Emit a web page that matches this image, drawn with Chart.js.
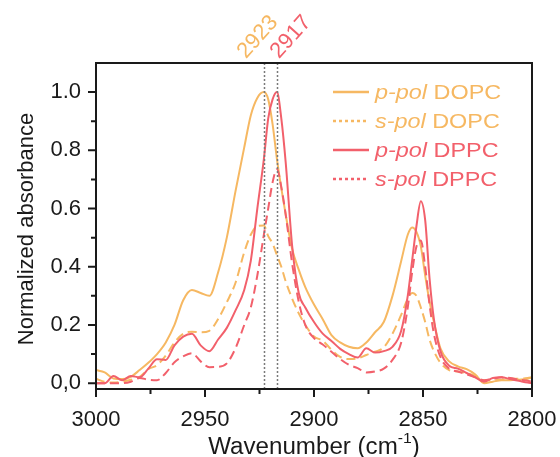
<!DOCTYPE html>
<html>
<head>
<meta charset="utf-8">
<script src="https://cdn.jsdelivr.net/npm/chart.js@4.4.0/dist/chart.umd.min.js"></script>
<style>
  html, body { margin: 0; padding: 0; background: #fff; }
  #wrap { width: 560px; height: 457px; }
</style>
</head>
<body>
<div id="wrap"><canvas id="grafico" width="560" height="457"></canvas></div>
<script>
// Número de onda (cm-1)
const wavenumbers = [3000, 2996, 2992, 2988, 2984, 2980, 2976, 2972, 2968, 2964, 2960, 2956, 2952, 2948, 2944, 2940, 2936, 2932,
  2929, 2926, 2923, 2921, 2919, 2917, 2915, 2913, 2910, 2907, 2904,
  2900, 2896, 2892, 2888, 2884, 2880, 2876, 2872, 2868, 2864, 2860,
  2857, 2855, 2853, 2851, 2849, 2847, 2845, 2842,
  2838, 2834, 2830, 2826, 2822, 2818, 2814, 2810, 2806, 2802, 2800];

// Absorbância normalizada
const pPolDOPC = [0.045, 0.037, 0.016, 0.014, 0.022, 0.045, 0.07, 0.10, 0.14, 0.20, 0.285, 0.32, 0.31, 0.30, 0.38, 0.50, 0.66, 0.81,
  0.92, 0.98, 1.0, 0.975, 0.89, 0.77, 0.67, 0.58, 0.46, 0.39, 0.33,
  0.27, 0.22, 0.165, 0.14, 0.125, 0.12, 0.14, 0.175, 0.21, 0.30, 0.42,
  0.51, 0.535, 0.52, 0.47, 0.37, 0.28, 0.21, 0.12,
  0.075, 0.058, 0.048, 0.03, 0.0, 0.005, 0.01, 0.01, 0.012, 0.015, 0.02];
const sPolDOPC = [0.015, 0.005, 0.002, 0.005, 0.012, 0.022, 0.048, 0.062, 0.095, 0.14, 0.17, 0.177, 0.175, 0.18, 0.22, 0.278, 0.345, 0.45,
  0.51, 0.54, 0.542, 0.505, 0.48, 0.44, 0.40, 0.35, 0.29, 0.24, 0.20,
  0.16, 0.146, 0.115, 0.09, 0.083, 0.085, 0.097, 0.108, 0.123, 0.17, 0.235,
  0.29, 0.31, 0.30, 0.26, 0.21, 0.15, 0.11, 0.07,
  0.045, 0.04, 0.035, 0.025, 0.01, 0.01, 0.012, 0.015, 0.015, 0.018, 0.02];
const pPolDPPC = [0.0, 0.0, 0.025, 0.01, 0.025, 0.02, 0.05, 0.082, 0.08, 0.13, 0.16, 0.17, 0.13, 0.11, 0.15, 0.19, 0.25, 0.32,
  0.42, 0.60, 0.77, 0.91, 0.975, 1.0, 0.91, 0.76, 0.47, 0.31, 0.26,
  0.21, 0.17, 0.145, 0.118, 0.1, 0.088, 0.12, 0.105, 0.11, 0.125, 0.18,
  0.3, 0.42, 0.54, 0.625, 0.56, 0.36, 0.22, 0.11,
  0.06, 0.05, 0.035, 0.02, 0.005, 0.018, 0.02, 0.014, 0.008, 0.002, 0.0];
const sPolDPPC = [0.0, 0.0, 0.0, 0.0, 0.005, 0.018, 0.012, 0.01, 0.035, 0.072, 0.092, 0.103, 0.075, 0.055, 0.056, 0.068, 0.12, 0.2,
  0.26, 0.37, 0.51, 0.6, 0.69, 0.735, 0.674, 0.58, 0.41, 0.28, 0.2,
  0.155, 0.133, 0.108, 0.083, 0.063, 0.052, 0.037, 0.04, 0.05, 0.08, 0.14,
  0.26, 0.38, 0.47, 0.49, 0.40, 0.27, 0.17, 0.09,
  0.05, 0.04, 0.03, 0.02, 0.01, 0.015, 0.02, 0.018, 0.012, 0.008, 0.005];

// Legenda e marcações
const polarizacoes = ['p-pol', 's-pol', 'p-pol', 's-pol'];
const lipidios = ['DOPC', 'DOPC', 'DPPC', 'DPPC'];
const picos = [2923, 2917];
const picosLabels = ['2923', '2917'];
const xTicks = [3000, 2950, 2900, 2850, 2800];
const xMinorTicks = [2975, 2925, 2875, 2825];
const yTicks = [0, 0.2, 0.4, 0.6, 0.8, 1.0];
const yTickLabels = ['0,0', '0.2', '0.4', '0.6', '0.8', '1.0'];
const yMinorTicks = [0.1, 0.3, 0.5, 0.7, 0.9];

const LARANJA = '#f6b862';
const VERMELHO = '#f2606b';
const FONTE = '"Liberation Sans", Arial, sans-serif';

const cores = [LARANJA, LARANJA, VERMELHO, VERMELHO];
const series = [pPolDOPC, sPolDOPC, pPolDPPC, sPolDPPC];
const ordens = [2, 3, 0, 1];

// Desenha moldura, marcas dos eixos, linhas dos picos, legenda e títulos
const decoracao = {
  id: 'decoracao',
  afterDatasetsDraw(chart) {
    const { ctx, chartArea: a, scales: { x, y } } = chart;
    ctx.save();

    // linhas pontilhadas dos picos
    ctx.strokeStyle = '#7a7a7a';
    ctx.lineWidth = 1.5;
    ctx.setLineDash([2, 2]);
    picos.forEach(p => {
      const px = Math.round(x.getPixelForValue(p)) + 0.5;
      ctx.beginPath();
      ctx.moveTo(px, a.bottom);
      ctx.lineTo(px, a.top);
      ctx.stroke();
    });
    ctx.setLineDash([]);

    // moldura
    ctx.strokeStyle = '#1a1a1a';
    ctx.lineWidth = 2;
    ctx.strokeRect(a.left, a.top, a.right - a.left, a.bottom - a.top);

    // marcas
    ctx.beginPath();
    xTicks.forEach(v => { const px = x.getPixelForValue(v); ctx.moveTo(px, a.bottom); ctx.lineTo(px, a.bottom + 8); });
    xMinorTicks.forEach(v => { const px = x.getPixelForValue(v); ctx.moveTo(px, a.bottom); ctx.lineTo(px, a.bottom + 5); });
    yTicks.forEach(v => { const py = y.getPixelForValue(v); ctx.moveTo(a.left, py); ctx.lineTo(a.left - 8, py); });
    yMinorTicks.forEach(v => { const py = y.getPixelForValue(v); ctx.moveTo(a.left, py); ctx.lineTo(a.left - 5, py); });
    ctx.stroke();

    // rótulos dos picos (inclinados)
    const deslocamentos = [-6, 14];
    ctx.font = '22px ' + FONTE;
    ctx.textAlign = 'center';
    ctx.textBaseline = 'middle';
    picos.forEach((p, i) => {
      const px = x.getPixelForValue(p) + deslocamentos[i];
      ctx.save();
      ctx.translate(px, 37);
      ctx.rotate(-48 * Math.PI / 180);
      ctx.fillStyle = i === 0 ? LARANJA : VERMELHO;
      ctx.fillText(picosLabels[i], 0, 0);
      ctx.restore();
    });

    // legenda
    const lx = 333, ly = 92, passo = 29;
    ctx.textAlign = 'left';
    ctx.textBaseline = 'middle';
    polarizacoes.forEach((pol, i) => {
      const yy = ly + i * passo;
      ctx.strokeStyle = cores[i];
      ctx.lineWidth = 2.5;
      ctx.setLineDash(pol === 's-pol' ? [3, 3] : []);
      ctx.beginPath();
      ctx.moveTo(lx, yy);
      ctx.lineTo(lx + 36, yy);
      ctx.stroke();
      ctx.setLineDash([]);
      ctx.save();
      ctx.translate(lx + 42, yy + 1);
      ctx.scale(1.17, 1);
      ctx.fillStyle = cores[i];
      ctx.font = 'italic 20px ' + FONTE;
      ctx.fillText(pol, 0, 0);
      const w = ctx.measureText(pol).width;
      ctx.font = '20px ' + FONTE;
      ctx.fillText(' ' + lipidios[i], w, 0);
      ctx.restore();
    });

    // título do eixo x com sobrescrito
    ctx.fillStyle = '#1a1a1a';
    ctx.textBaseline = 'alphabetic';
    const base = 'Wavenumber (cm', sup = '-1', fim = ')';
    ctx.font = '23px ' + FONTE;
    const wBase = ctx.measureText(base).width, wFim = ctx.measureText(fim).width;
    ctx.font = '15px ' + FONTE;
    const wSup = ctx.measureText(sup).width;
    const sx = 1.05;
    const total = (wBase + wSup + wFim) * sx;
    const cx = (a.left + a.right) / 2;
    ctx.save();
    ctx.translate(cx - total / 2, 454);
    ctx.scale(sx, 1);
    ctx.font = '23px ' + FONTE;
    ctx.fillText(base, 0, 0);
    ctx.font = '15px ' + FONTE;
    ctx.fillText(sup, wBase, -11);
    ctx.font = '23px ' + FONTE;
    ctx.fillText(fim, wBase + wSup, 0);
    ctx.restore();

    // título do eixo y
    ctx.save();
    ctx.translate(33, (a.top + a.bottom) / 2 + 3);
    ctx.rotate(-Math.PI / 2);
    ctx.textAlign = 'center';
    ctx.font = '22px ' + FONTE;
    ctx.fillText('Normalized absorbance', 0, 0);
    ctx.restore();

    ctx.restore();
  }
};

window.addEventListener('DOMContentLoaded', () => {
  const canvas = document.getElementById('grafico');
  if (!canvas) {
    console.warn('Canvas não encontrado!');
    return;
  }
  const ctx = canvas.getContext('2d');

  new Chart(ctx, {
    type: 'line',
    data: {
      datasets: series.map((vals, i) => ({
        label: polarizacoes[i] + ' ' + lipidios[i],
        data: wavenumbers.map((w, k) => ({ x: w, y: vals[k] })),
        borderColor: cores[i],
        borderWidth: 2,
        borderDash: polarizacoes[i] === 's-pol' ? [9, 5] : [],
        pointRadius: 0,
        fill: false,
        cubicInterpolationMode: 'monotone',
        order: ordens[i]
      }))
    },
    options: {
      responsive: false,
      animation: false,
      devicePixelRatio: 1,
      layout: { padding: { left: 0, top: 63, right: 28, bottom: 0 } },
      plugins: {
        legend: { display: false },
        tooltip: { enabled: false },
        title: { display: false }
      },
      scales: {
        x: {
          type: 'linear',
          reverse: true,
          min: 2800,
          max: 3000,
          afterBuildTicks: s => { s.ticks = xTicks.map(v => ({ value: v })); },
          afterFit: s => { s.height = 68; s.paddingLeft = 0; s.paddingRight = 0; },
          grid: { display: false, drawTicks: false },
          border: { display: false },
          ticks: {
            autoSkip: false,
            maxRotation: 0,
            padding: 18,
            color: '#1a1a1a',
            font: { family: FONTE, size: 22 },
            callback: v => String(v)
          }
        },
        y: {
          min: -0.02,
          max: 1.1,
          afterBuildTicks: s => { s.ticks = yTicks.map(v => ({ value: v })); },
          afterFit: s => { s.width = 96; s.paddingTop = 0; s.paddingBottom = 0; },
          grid: { display: false, drawTicks: false },
          border: { display: false },
          ticks: {
            autoSkip: false,
            padding: 15,
            color: '#1a1a1a',
            font: { family: FONTE, size: 22 },
            callback: (v, i) => yTickLabels[i]
          }
        }
      }
    },
    plugins: [decoracao]
  });
});
</script>
</body>
</html>
